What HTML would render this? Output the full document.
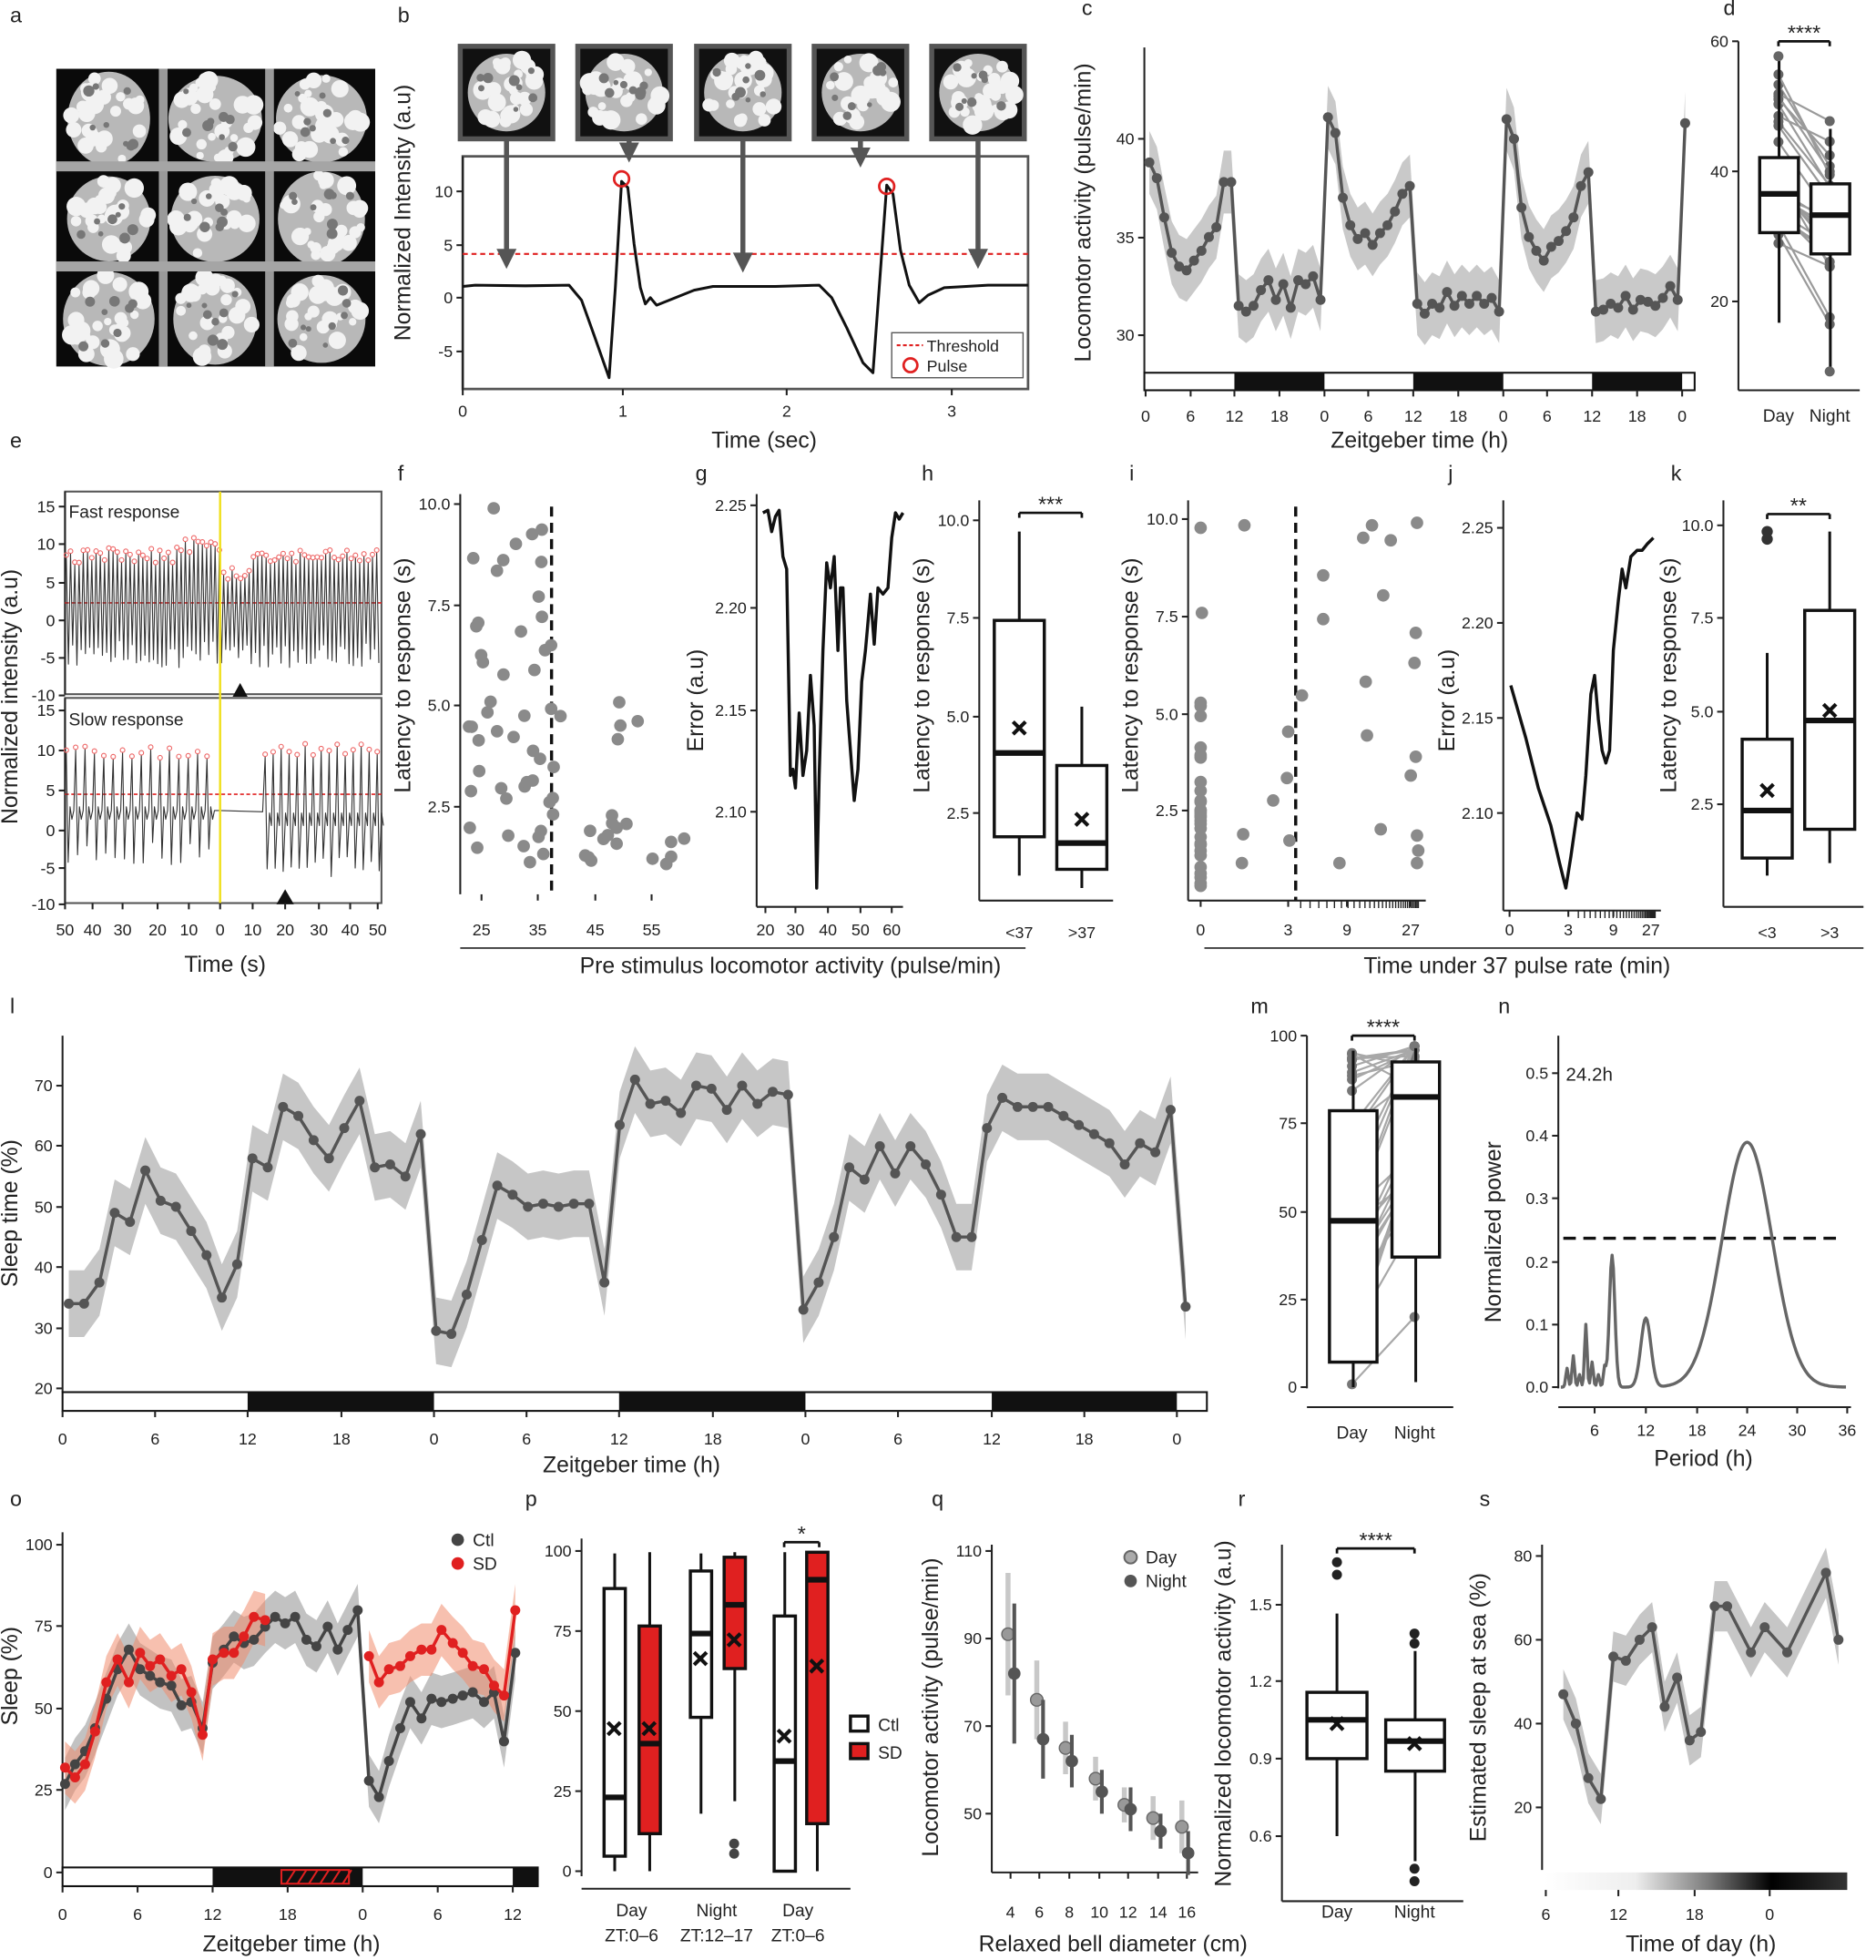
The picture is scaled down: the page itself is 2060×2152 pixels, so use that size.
<!DOCTYPE html>
<html><head><meta charset="utf-8"><style>
html,body{margin:0;padding:0;background:#fff}
svg{display:block}
text{font-family:"Liberation Sans",sans-serif;fill:#222}
</style></head><body>
<svg id="s" xmlns="http://www.w3.org/2000/svg" width="2060" height="2152" viewBox="0 0 1500 1567"></svg>
<script>
const S=[];const add=s=>S.push(s);
let seed=7;const rnd=()=>{seed=(seed*16807)%2147483647;return (seed-1)/2147483646};
const L=(v0,p0,v1,p1)=>v=>p0+(v-v0)*(p1-p0)/(v1-v0);
function txt(x,y,t,sz=13,a='middle',ex=''){add(`<text x="${x}" y="${y}" font-size="${sz}" text-anchor="${a}" ${ex}>${t}</text>`)}
function rtxt(x,y,t,sz=18){add(`<text x="${x}" y="${y}" font-size="${sz}" text-anchor="middle" transform="rotate(-90 ${x} ${y})">${t}</text>`)}
function ln(x1,y1,x2,y2,c='#222',w=1.5,ex=''){add(`<line x1="${x1}" y1="${y1}" x2="${x2}" y2="${y2}" stroke="${c}" stroke-width="${w}" ${ex}/>`)}
function pl(p,c='#222',w=2,f='none',ex=''){add(`<polyline points="${p.map(q=>q[0].toFixed(1)+','+q[1].toFixed(1)).join(' ')}" stroke="${c}" stroke-width="${w}" fill="${f}" stroke-linejoin="round" ${ex}/>`)}
function pg(p,f,ex=''){add(`<polygon points="${p.map(q=>q[0].toFixed(1)+','+q[1].toFixed(1)).join(' ')}" fill="${f}" ${ex}/>`)}
function cir(x,y,r,f,ex=''){add(`<circle cx="${x}" cy="${y}" r="${r}" fill="${f}" ${ex}/>`)}
function rect(x,y,w,h,f,ex=''){add(`<rect x="${x}" y="${y}" width="${w}" height="${h}" fill="${f}" ${ex}/>`)}
function yax(x,y1,y2,ticks,sz=13){ln(x,y1,x,y2);ticks.forEach(t=>{ln(x-5,t[1],x,t[1]);txt(x-8,t[1]+4.5,t[0],sz,'end')})}
function xt(y,ticks,ly,sz=13){ticks.forEach(t=>{ln(t[1],y,t[1],y+5);txt(t[1],ly,t[0],sz)})}
function band(xs,up,lo,f){pg(xs.map((x,i)=>[x,up[i]]).concat(xs.map((x,i)=>[x,lo[i]]).reverse()),f)}
function bx(x1,x2,q3,med,q1,wt,wb){const c=(x1+x2)/2;ln(c,wt,c,wb,'#111',2.2);rect(x1,q3,x2-x1,q1-q3,'#fff','stroke="#111" stroke-width="2.5"');ln(x1,med,x2,med,'#111',4.5)}
function xm(x,y){ln(x-5,y-5,x+5,y+5,'#111',3);ln(x-5,y+5,x+5,y-5,'#111',3)}
function lab(x,y,t){txt(x,y,t,17,'start')}
function stars(x1,x2,y,t){ln(x1,y,x2,y,'#111',2);ln(x1,y,x1,y+4,'#111',2);ln(x2,y,x2,y+4,'#111',2);txt((x1+x2)/2,y-1,t,17)}
function jelly(cx,cy,rx,ry){add(`<ellipse cx="${cx}" cy="${cy}" rx="${rx}" ry="${ry}" fill="#b8b8b8"/>`);for(let k=0;k<26;k++){const a=rnd()*6.28,r=Math.sqrt(rnd());cir(cx+Math.cos(a)*r*rx*0.95,cy+Math.sin(a)*r*ry*0.95,3+rnd()*5,'#f2f2f2')}for(let k=0;k<8;k++)cir(cx+(rnd()-.5)*rx*1.4,cy+(rnd()-.5)*ry*1.4,2+rnd()*2.5,'#777')}

/* ---- a ---- */
lab(8,18,'a');
rect(45,55,255,238,'#0a0a0a');
for(let i=0;i<3;i++)for(let j=0;j<3;j++){const cx=45+42+i*85,cy=55+40+j*80;jelly(cx,cy,33+rnd()*5,34+rnd()*4)}
[130,215].forEach(x=>rect(x-3,55,7,238,'#9a9a9a'));[133,213].forEach(y=>rect(45,y-4,255,8,'#a5a5a5'));

/* ---- b ---- */
lab(318,18,'b');
[368,462,557,651,745].forEach(x=>{rect(x,37,74,74,'#111','stroke="#555" stroke-width="4"');jelly(x+37,74,31,31)});
rect(370,125,452,186,'none','stroke="#555" stroke-width="2"');
{yax(370,125,311,[['10',153],['5',196],['0',238],['-5',281]]);xt(311,[['0',370],['1',498],['2',629],['3',761]],333,13);
ln(370,203,822,203,'#e02020',1.5,'stroke-dasharray="4,3"');
const p=[[370,229],[380,228],[420,228.5],[455,228],[465,240],[475,268],[487,302],[492,230],[497,145],[502,150],[507,195],[512,230],[516,243],[520,238],[525,244],[540,238],[555,232],[570,229],[620,229],[655,228],[665,238],[677,262],[690,290],[698,298],[703,230],[709,148],[714,155],[720,200],[727,228],[735,242],[742,236],[755,230],[790,228],[822,228]];
pl(p,'#111',2.2);
cir(497,143,6,'none','stroke="#e02020" stroke-width="2"');cir(709,149,6,'none','stroke="#e02020" stroke-width="2"');
[[405,207],[503,122],[594,210],[688,126],[782,207]].forEach(a=>{ln(a[0],112,a[0],a[1],'#555',4);pg([[a[0]-8,a[1]-8],[a[0]+8,a[1]-8],[a[0],a[1]+8]],'#555')});
rect(713,266,105,36,'#fff','stroke="#555" stroke-width="1"');ln(717,276,738,276,'#e02020',1.5,'stroke-dasharray="3,2"');txt(741,281,'Threshold',13,'start');cir(728,292,5.5,'none','stroke="#e02020" stroke-width="2"');txt(741,297,'Pulse',13,'start');
rtxt(328,170,'Normalized Intensity (a.u)',18);txt(611,358,'Time (sec)',18);}

/* ---- c ---- */
lab(865,12,'c');
{const Y=L(30,268,40,111);yax(915,38,298,[['40',111],['35',190],['30',268]]);
rect(915,298,440,14,'#fff','stroke="#111" stroke-width="1.5"');[[987,1059],[1130,1202],[1273,1345]].forEach(s=>rect(s[0],298,s[1]-s[0],14,'#111'));
xt(312,[['0',916],['6',952],['12',987],['18',1023],['0',1059],['6',1094],['12',1130],['18',1166],['0',1202],['6',1237],['12',1273],['18',1309],['0',1345]],337,13);
const d=[38.8,38,36,34.2,33.5,33.3,33.8,34.3,35,35.5,37.8,37.8,31.5,31.2,31.5,32.3,32.8,31.8,32.6,31.4,32.8,32.6,33,31.8,41.1,40.3,37,35.6,34.9,35.2,34.6,35.2,35.6,36.3,37.2,37.6,31.6,31.1,31.6,31.4,32.2,31.5,32,31.6,32,31.6,31.9,31.2,41,40,36.5,35,34.3,33.8,34.5,34.8,35.3,36,37.6,38.3,31.2,31.3,31.6,31.4,32,31.3,31.8,31.7,31.5,31.9,32.5,31.8,40.8];
const xs=d.map((v,i)=>919+i*5.95);
band(xs,d.map(v=>Y(v+1.6)),d.map(v=>Y(v-1.6)),'#c9c9c9');
pl(xs.map((x,i)=>[x,Y(d[i])]),'#555',2.5);xs.forEach((x,i)=>cir(x,Y(d[i]),4,'#555'));
rtxt(872,170,'Locomotor activity (pulse/min)',18);txt(1135,358,'Zeitgeber time (h)',18);}

/* ---- d ---- */
lab(1378,12,'d');
{yax(1390,33,312,[['60',33],['40',137],['20',241]]);ln(1390,312,1487,312);
for(let i=0;i<24;i++){const a=28+rnd()*28,b=a-2-rnd()*14;const ya=241-(a-20)*5.2,yb=241-(b-20)*5.2;ln(1422,ya,1463,yb,'#9a9a9a',1.6);cir(1422,ya,4,'#666');cir(1463,yb,4,'#666')}
bx(1407,1438,126,155,186,45,258);bx(1448,1479,147,172,203,103,297);
cir(1422,45,4,'#666');cir(1463,297,4,'#666');
stars(1422,1463,33,'****');txt(1422,337,'Day',14);txt(1463,337,'Night',14);}

/* ---- e ---- */
lab(8,358,'e');
rect(52,393,253,162,'none','stroke="#555" stroke-width="1.5"');rect(52,558,253,164,'none','stroke="#555" stroke-width="1.5"');
yax(52,393,555,[['15',405],['10',435],['5',466],['0',496],['-5',526],['-10',556]]);
yax(52,558,722,[['15',568],['10',600],['5',632],['0',664],['-5',694],['-10',723]]);
ln(52,482,305,482,'#e02020',1.2,'stroke-dasharray="3,2"');ln(52,635,305,635,'#e02020',1.2,'stroke-dasharray="3,2"');
{let p=[],pk=[];for(let x=53;x<304;x+=3.4){const py=440+rnd()*12-(x>140&&x<176?8:0)+(x>176&&x<200?15:0);p.push([x,py]);pk.push([x,py]);p.push([x+1.7,512+rnd()*22])}pl(p,'#333',0.8);pk.forEach(q=>cir(q[0],q[1]-2,1.8,'none','stroke="#e66" stroke-width="0.8"'));
p=[];pk=[];for(let x=53;x<172;x+=7.5){const py=598+rnd()*10;p.push([x,py]);pk.push([x,py]);p.push([x+1.5,672+rnd()*20]);p.push([x+3,645]);p.push([x+4.5,655]);p.push([x+6,648])}
p.push([176,648],[210,649]);for(let x=212;x<304;x+=6.4){const py=596+rnd()*10;p.push([x,py]);pk.push([x,py]);p.push([x+1.6,685+rnd()*18]);p.push([x+3.5,650]);p.push([x+5,660])}
pl(p,'#333',0.8);pk.forEach(q=>cir(q[0],q[1]-2,1.8,'none','stroke="#e66" stroke-width="0.8"'));}
ln(176,393,176,722,'#f0e020',1.8);txt(55,414,'Fast response',14,'start');txt(55,580,'Slow response',14,'start');
pg([[186,557],[198,557],[192,546]],'#111');pg([[221,723],[235,723],[228,711]],'#111');
xt(722,[['50',52],['40',74],['30',98],['20',126],['10',151],['0',176],['10',202],['20',228],['30',255],['40',280],['50',302]],748,13);
rtxt(14,557,'Normalized intensity (a.u)',18);txt(180,777,'Time (s)',18);

/* ---- f ---- */
lab(318,384,'f');
{yax(368,395,715,[['10.0',403],['7.5',484],['5.0',564],['2.5',645]]);xt(715,[['25',385],['35',430],['45',476],['55',521]],748,13);
ln(441,405,441,712,'#111',2.5,'stroke-dasharray="8,5"');
for(let i=0;i<48;i++){const x=375+rnd()*68,y=405+rnd()*290;cir(x,y,5,'#8a8a8a')}
for(let i=0;i<22;i++){const x=440+rnd()*115,y=i<6?560+rnd()*40:650+rnd()*45;cir(x,y,5,'#8a8a8a')}
rtxt(328,540,'Latency to response (s)',18);}
/* ---- g ---- */
lab(556,384,'g');
{yax(605,395,725,[['2.25',404],['2.20',486],['2.15',568],['2.10',649]]);ln(605,725,722,725);xt(725,[['20',612],['30',636],['40',662],['50',688],['60',713]],748,13);
pl([[610,410],[614,408],[617,425],[620,413],[623,408],[626,445],[629,455],[632,620],[634,615],[636,630],[639,570],[642,620],[645,600],[648,540],[651,580],[653,710],[655,620],[658,520],[661,450],[664,470],[667,445],[670,520],[672,470],[674,470],[677,560],[680,600],[683,640],[686,615],[689,545],[692,520],[696,475],[699,515],[702,470],[706,475],[710,470],[713,430],[716,410],[719,415],[722,410]],'#111',2.5);
rtxt(562,560,'Error (a.u)',18);}
/* ---- h ---- */
lab(737,384,'h');
{yax(783,400,720,[['10.0',416],['7.5',494],['5.0',573],['2.5',650]]);ln(783,720,890,720);
bx(795,835,496,602,669,425,700);xm(815,582);bx(845,885,612,674,695,565,710);xm(865,655);
stars(815,865,410,'***');txt(815,750,'&lt;37',13);txt(865,750,'&gt;37',13);
rtxt(743,540,'Latency to response (s)',18);}
ln(368,758,820,758,'#222',1.2);txt(632,778,'Pre stimulus locomotor activity (pulse/min)',18);

/* ---- i ---- */
lab(903,384,'i');
{yax(950,400,720,[['10.0',415],['7.5',493],['5.0',571],['2.5',648]]);ln(950,720,1140,720);xt(720,[['0',960],['3',1030],['9',1077],['27',1128]],748,13);
for(let k=0;k<30;k++){const x=1040+95*(1-Math.pow(0.93,k))/(1-Math.pow(0.93,30));ln(x,720,x,726,'#222',1)}
ln(1036,405,1036,720,'#111',2.5,'stroke-dasharray="8,5"');
for(let i=0;i<28;i++)cir(960,560+rnd()*150,5,'#8a8a8a');cir(960,422,5,'#8a8a8a');cir(961,490,5,'#8a8a8a');
[[995,420],[994,667],[993,690],[1018,640],[1029,622],[1030,585],[1031,672],[1041,556],[1058,460],[1058,495],[1071,690],[1090,430],[1092,545],[1093,588],[1097,420],[1104,663],[1106,476],[1112,432],[1133,418],[1132,506],[1131,530],[1132,605],[1128,620],[1133,668],[1133,690],[1134,680]].forEach(q=>cir(q[0],q[1],5,'#8a8a8a'));
rtxt(910,540,'Latency to response (s)',18);}
/* ---- j ---- */
lab(1158,384,'j');
{yax(1202,400,728,[['2.25',422],['2.20',498],['2.15',574],['2.10',650]]);ln(1202,728,1328,728);xt(728,[['0',1207],['3',1254],['9',1290],['27',1320]],748,13);
for(let k=0;k<30;k++){const x=1262+62*(1-Math.pow(0.93,k))/(1-Math.pow(0.93,30));ln(x,728,x,734,'#222',1)}
pl([[1208,548],[1220,590],[1230,630],[1240,660],[1247,690],[1252,710],[1256,685],[1261,650],[1265,655],[1268,620],[1272,555],[1275,540],[1278,575],[1281,600],[1284,610],[1287,600],[1290,520],[1294,480],[1297,455],[1300,470],[1304,445],[1309,440],[1313,440],[1317,435],[1322,430]],'#111',2.5);
rtxt(1163,560,'Error (a.u)',18);}
/* ---- k ---- */
lab(1336,384,'k');
{yax(1378,400,725,[['10.0',420],['7.5',494],['5.0',569],['2.5',643]]);ln(1378,725,1490,725);
bx(1393,1433,591,648,686,522,700);cir(1413,425,4.5,'#333');cir(1413,431,4.5,'#333');xm(1413,632);
bx(1443,1483,488,576,663,425,690);xm(1463,568);
stars(1413,1463,411,'**');txt(1413,750,'&lt;3',13);txt(1463,750,'&gt;3',13);
rtxt(1340,540,'Latency to response (s)',18);}
ln(963,758,1490,758,'#222',1.2);txt(1213,778,'Time under 37 pulse rate (min)',18);

/* ---- l ---- */
lab(8,810,'l');
{const Y=L(20,1110,70,868);yax(50,828,1113,[['70',868],['60',916],['50',965],['40',1013],['30',1062],['20',1110]]);
rect(50,1113,915,15,'#fff','stroke="#111" stroke-width="1.5"');[[198,347],[495,644],[793,941]].forEach(s=>rect(s[0],1113,s[1]-s[0],15,'#111'));
xt(1128,[['0',50],['6',124],['12',198],['18',273],['0',347],['6',421],['12',495],['18',570],['0',644],['6',718],['12',793],['18',867],['0',941]],1155,13);
const d=[34,34,37.5,49,47.5,56,51,50,46,42,35,40.5,58,56.5,66.5,65,61,58,63,67.5,56.5,57,55,62,29.5,29,35.5,44.5,53.5,52,50,50.5,50,50.5,50.5,37.5,63.5,71,67,67.5,65.5,70,69.5,66,70,67,69,68.5,33,37.5,45,56.5,54.5,60,55.5,60,57,52,45,45,63,68,66.5,66.5,66.5,65,63.5,62,60.5,57,60.5,59,66,33.5];
const n=d.length;const xs=d.map((v,i)=>i<n-1?55+i*(881/(n-2)):948);
band(xs,d.map(v=>Y(v+5.5)),d.map(v=>Y(v-5.5)),'#c6c6c6');
pl(xs.map((x,i)=>[x,Y(d[i])]),'#555',2.5);xs.forEach((x,i)=>cir(x,Y(d[i]),4,'#555'));
rtxt(14,970,'Sleep time (%)',18);txt(505,1177,'Zeitgeber time (h)',18);}

/* ---- m ---- */
lab(1000,810,'m');
{yax(1045,828,1110,[['100',828],['75',898],['50',969],['25',1039],['0',1109]]);ln(1045,1125,1162,1125);
const Y=v=>1109-v*2.81;
for(let i=0;i<32;i++){let a=rnd()*97,b=Math.min(97,a+10+rnd()*50);if(i<8){a=85+rnd()*12;b=85+rnd()*12}const ya=Y(a),yb=Y(b);ln(1081,ya,1131,yb,'#a8a8a8',1.6);cir(1081,ya,4,'#777');cir(1131,yb,4,'#777')}
bx(1063,1101,888,976,1089,840,1109);bx(1113,1151,849,877,1005,838,1105);
stars(1081,1131,828,'****');txt(1081,1150,'Day',14);txt(1131,1150,'Night',14);}

/* ---- n ---- */
lab(1198,810,'n');
{yax(1246,828,1110,[['0.5',858],['0.4',908],['0.3',958],['0.2',1009],['0.1',1059],['0.0',1109]]);ln(1246,1125,1480,1125);
xt(1125,[['6',1275],['12',1316],['18',1357],['24',1397],['30',1437],['36',1477]],1148,13);
ln(1250,990,1468,990,'#111',2.5,'stroke-dasharray="10,6"');
const Y=v=>1109-v*502;let p=[];
for(let x=1248;x<=1476;x+=1){let v=0.39*Math.exp(-Math.pow(x-1397,2)/(2*20*20));v+=0.21*Math.exp(-Math.pow(x-1289,2)/(2*2.2*2.2));v+=0.11*Math.exp(-Math.pow(x-1316,2)/(2*4*4));
[[1253,.03],[1258,.05],[1263,.02],[1268,.1],[1273,.04],[1278,.02],[1283,.03]].forEach(s=>{v+=s[1]*Math.exp(-Math.pow(x-s[0],2)/2)});p.push([x,Y(v)])}
pl(p,'#666',2.5);txt(1252,864,'24.2h',15,'start');
rtxt(1200,985,'Normalized power',18);txt(1362,1172,'Period (h)',18);}

/* ---- o ---- */
lab(8,1204,'o');
{const Y=v=>1497-v*2.62;yax(50,1225,1497,[['100',1235],['75',1300],['50',1366],['25',1431],['0',1497]]);
rect(50,1493,380,15,'#fff','stroke="#111" stroke-width="1.5"');rect(170,1493,120,15,'#111');rect(410,1493,20,15,'#111');
rect(225,1495,54,11,'#111','stroke="#e02020" stroke-width="1.5"');for(let x=229;x<280;x+=9)ln(x,1506,x+7,1495,'#e02020',1.5);
xt(1508,[['0',50],['6',110],['12',170],['18',230],['0',290],['6',350],['12',410]],1535,13);
const C=[[52,27],[60,33],[68,37],[76,44],[85,53],[94,62],[103,68],[112,62],[120,60],[128,58],[137,57],[145,51],[153,52],[162,44],[170,64],[179,68],[187,72],[195,70],[203,71],[212,75],[220,78],[228,76],[236,78],[245,71],[253,69],[262,75],[270,68],[278,74],[286,80],[295,28],[303,23],[311,34],[320,44],[328,52],[337,47],[345,53],[353,52],[362,53],[370,54],[378,55],[387,52],[395,55],[403,40],[412,67]];
const R1=[[52,32],[60,29],[68,33],[76,43],[85,58],[94,65],[103,58],[112,67],[120,63],[128,65],[137,60],[145,62],[153,55],[162,42],[170,65],[179,67],[187,67],[195,72],[203,78],[212,77]];
const R2=[[295,66],[303,58],[311,62],[320,63],[328,66],[337,68],[345,68],[353,74],[362,70],[370,67],[378,63],[387,62],[395,57],[403,54],[412,80]];
band(C.map(q=>q[0]),C.map(q=>Y(q[1]+8)),C.map(q=>Y(q[1]-8)),'#c2c2c2');
[R1,R2].forEach(R=>band(R.map(q=>q[0]),R.map(q=>Y(q[1]+8)),R.map(q=>Y(q[1]-8)),'rgba(240,140,110,0.55)'));
pl(C.map(q=>[q[0],Y(q[1])]),'#444',2.5);C.forEach(q=>cir(q[0],Y(q[1]),4,'#444'));
[R1,R2].forEach(R=>{pl(R.map(q=>[q[0],Y(q[1])]),'#e02020',2.5);R.forEach(q=>cir(q[0],Y(q[1]),4,'#e02020'))});
cir(366,1231,5,'#444');txt(378,1236,'Ctl',14,'start');cir(366,1250,5,'#e02020');txt(378,1255,'SD',14,'start');
rtxt(14,1340,'Sleep (%)',18);txt(233,1560,'Zeitgeber time (h)',18);}

/* ---- p ---- */
lab(420,1204,'p');
{yax(465,1230,1500,[['100',1240],['75',1304],['50',1368],['25',1432],['0',1496]]);ln(465,1510,680,1510);
const B=(x1,x2,q3,m,q1,wt,wb,red)=>{const c=(x1+x2)/2;ln(c,wt,c,wb,'#111',2.2);rect(x1,q3,x2-x1,q1-q3,red?'#e02020':'#fff','stroke="#111" stroke-width="2.5"');ln(x1,m,x2,m,'#111',4.5)};
B(483,500,1270,1437,1484,1242,1496,0);xm(491,1382);
B(511,528,1300,1394,1466,1241,1496,1);xm(519,1382);
B(552,569,1256,1306,1373,1242,1450,0);xm(560,1326);
B(579,596,1245,1283,1334,1241,1440,1);cir(587,1474,4,'#444');cir(587,1482,4,'#444');xm(587,1311);
B(619,636,1292,1408,1496,1241,1496,0);xm(627,1388);
B(645,662,1241,1263,1458,1241,1496,1);xm(653,1332);
stars(627,655,1233,'*');
txt(505,1532,'Day',14);txt(505,1552,'ZT:0–6',14);txt(573,1532,'Night',14);txt(573,1552,'ZT:12–17',14);txt(638,1532,'Day',14);txt(638,1552,'ZT:0–6',14);
rect(680,1372,14,12,'#fff','stroke="#111" stroke-width="2.5"');txt(702,1384,'Ctl',14,'start');rect(680,1394,14,12,'#e02020','stroke="#111" stroke-width="2.5"');txt(702,1406,'SD',14,'start');}

/* ---- q ---- */
lab(745,1204,'q');
{const Y=v=>1450-(v-50)*3.5;yax(793,1235,1497,[['110',1240],['90',1310],['70',1380],['50',1450]]);ln(793,1497,958,1497);
xt(1497,[['4',808],['6',831],['8',855],['10',879],['12',902],['14',926],['16',949]],1533,13);
[[806,91,14],[829,76,9],[852,65,6],[876,58,5],[899,52,4],[922,49,5],[945,47,6]].forEach(q=>{ln(q[0],Y(q[1]+q[2]),q[0],Y(q[1]-q[2]),'#c8c8c8',4);cir(q[0],Y(q[1]),5,'#999','stroke="#666" stroke-width="1"')});
[[811,82,16],[834,67,9],[857,62,6],[881,55,5],[904,51,5],[928,46,4],[950,41,5]].forEach(q=>{ln(q[0],Y(q[1]+q[2]),q[0],Y(q[1]-q[2]),'#555',3);cir(q[0],Y(q[1]),5,'#555')});
cir(904,1245,5,'#aaa','stroke="#666" stroke-width="1.5"');txt(916,1250,'Day',14,'start');cir(904,1264,5,'#555');txt(916,1269,'Night',14,'start');
rtxt(750,1365,'Locomotor activity (pulse/min)',18);txt(890,1560,'Relaxed bell diameter (cm)',18);}

/* ---- r ---- */
lab(990,1204,'r');
{yax(1025,1235,1520,[['1.5',1283],['1.2',1344],['0.9',1406],['0.6',1468]]);ln(1025,1520,1170,1520);
bx(1045,1093,1353,1375,1406,1290,1468);xm(1069,1378);cir(1069,1249,4,'#222');cir(1069,1259,4,'#222');
bx(1108,1155,1375,1392,1416,1320,1488);xm(1131,1394);[1306,1314,1494,1504].forEach(y=>cir(1131,y,4,'#222'));
stars(1069,1131,1238,'****');txt(1069,1533,'Day',14);txt(1131,1533,'Night',14);
rtxt(984,1370,'Normalized locomotor activity (a.u)',18);}

/* ---- s ---- */
lab(1183,1204,'s');
{const Y=v=>1445-(v-20)*3.35;yax(1233,1235,1495,[['80',1244],['60',1311],['40',1378],['20',1445]]);
add(`<defs><linearGradient id="gr" x1="0" x2="1"><stop offset="0" stop-color="#fff"/><stop offset="0.3" stop-color="#eee"/><stop offset="0.55" stop-color="#777"/><stop offset="0.75" stop-color="#000"/><stop offset="1" stop-color="#333"/></linearGradient></defs>`);
rect(1235,1497,242,14,'url(#gr)');
xt(1511,[['6',1236],['12',1294],['18',1355],['0',1415]],1535,13);
const d=[[1250,47],[1260,40],[1270,27],[1280,22],[1290,56],[1300,55],[1311,60],[1321,63],[1331,44],[1341,51],[1351,36],[1360,38],[1371,68],[1381,68],[1400,57],[1411,63],[1429,57],[1460,76],[1470,60]];
band(d.map(q=>q[0]),d.map(q=>Y(q[1]+6)),d.map(q=>Y(q[1]-6)),'#c6c6c6');
pl(d.map(q=>[q[0],Y(q[1])]),'#555',2.5);d.forEach(q=>cir(q[0],Y(q[1]),4,'#555'));
rtxt(1188,1365,'Estimated sleep at sea (%)',18);txt(1360,1560,'Time of day (h)',18);}

document.getElementById('s').innerHTML=S.join('');
</script>
</body></html>
